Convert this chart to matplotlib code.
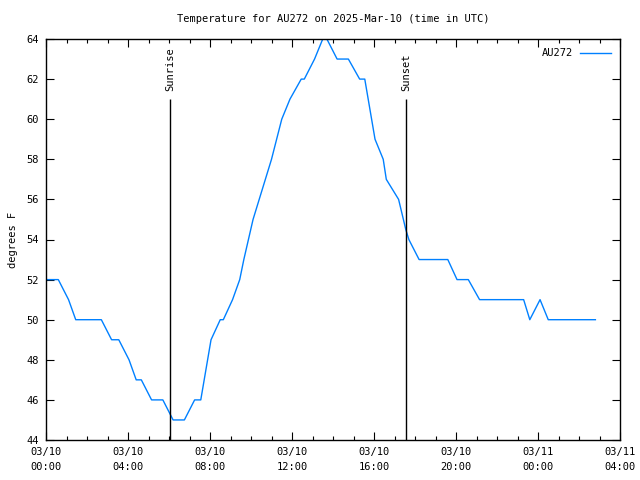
import matplotlib
matplotlib.use("Agg")
import matplotlib.pyplot as plt
from matplotlib.ticker import MultipleLocator

plt.rcParams['font.family'] = ['DejaVu Sans Mono']
plt.rcParams['font.size'] = 7.5

# hours since 03/10 00:00 UTC, temperature in F
hours = [0, 0.6, 1.1, 1.45, 2.7, 3.2, 3.55, 4.05, 4.4, 4.65, 5.15, 5.7, 6.2, 6.75,
         7.25, 7.55, 8.05, 8.5, 8.65, 9.1, 9.45, 9.65, 10.1, 11.0, 11.5, 11.9, 12.45,
         12.6, 13.1, 13.5, 13.7, 14.2, 14.75, 15.3, 15.55, 16.05, 16.45, 16.6, 17.2,
         17.55, 17.7, 18.2, 19.6, 20.05, 20.6, 21.15, 23.3, 23.6, 24.1, 24.5, 26.8]
temps = [52, 52, 51, 50, 50, 49, 49, 48, 47, 47, 46, 46, 45, 45,
         46, 46, 49, 50, 50, 51, 52, 53, 55, 58, 60, 61, 62,
         62, 63, 64, 64, 63, 63, 62, 62, 59, 58, 57, 56,
         54.5, 54, 53, 53, 52, 52, 51, 51, 50, 51, 50, 50]

sun_events = ["Sunrise", "Sunset"]
sun_hours = [6.05, 17.56]

xtick_pos = [0, 4, 8, 12, 16, 20, 24, 28]
xtick_labels = ["03/10\n00:00", "03/10\n04:00", "03/10\n08:00", "03/10\n12:00",
                "03/10\n16:00", "03/10\n20:00", "03/11\n00:00", "03/11\n04:00"]

fig = plt.figure(figsize=(6.4, 4.8), dpi=100)
ax = fig.add_axes([46/640, 40/480, 574/640, 401/480])

ax.plot(hours, temps, color='#0080ff', lw=1, label='AU272')

for name, h in zip(sun_events, sun_hours):
    ax.vlines(h, 44, 61, color='black', lw=1)
    ax.text(h, 61.4, name, rotation=90, ha='center', va='bottom')

ax.set_xlim(0, 28)
ax.set_ylim(44, 64)
ax.set_xticks(xtick_pos)
ax.set_xticklabels(xtick_labels, linespacing=1.6)
ax.xaxis.set_minor_locator(MultipleLocator(1))
ax.yaxis.set_major_locator(MultipleLocator(2))
ax.tick_params(which='both', direction='in', top=True, right=True, width=0.8)
ax.tick_params(which='major', length=6, pad=5)
ax.tick_params(which='minor', length=3)
for s in ax.spines.values():
    s.set_linewidth(1)

ax.set_ylabel('degrees F', labelpad=6)
ax.set_title('Temperature for AU272 on 2025-Mar-10 (time in UTC)', fontsize=7.5, pad=12)

leg = ax.legend(loc='upper right', frameon=False, markerfirst=False,
                handlelength=2.9, borderaxespad=0.5, handletextpad=0.7)

fig.savefig('out.png', dpi=100)
